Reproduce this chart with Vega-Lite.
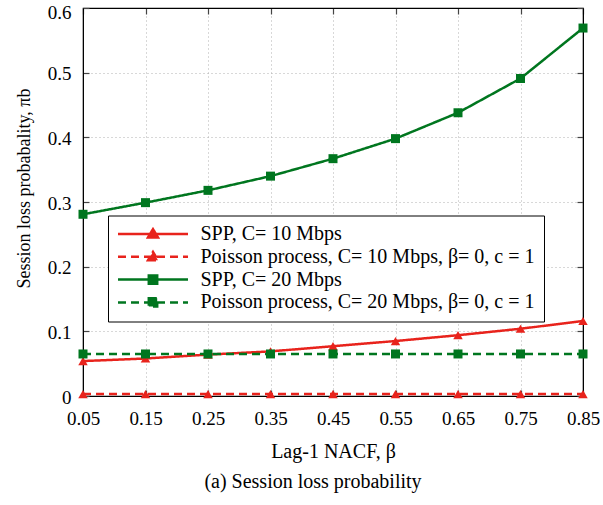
{
  "$schema": "https://vega.github.io/schema/vega-lite/v6.json",
  "autosize": {"type": "none"},
  "width": 500,
  "height": 388,
  "padding": {"left": 83, "top": 8, "right": 20, "bottom": 109},
  "background": "white",
  "config": {
    "font": "Liberation Serif",
    "view": {"stroke": "black", "strokeWidth": 1.2},
    "axis": {
      "labelFont": "Liberation Serif",
      "titleFont": "Liberation Serif",
      "labelFontSize": 19,
      "titleFontSize": 20,
      "titleFontWeight": "normal",
      "labelColor": "black",
      "titleColor": "black",
      "domainColor": "black",
      "tickColor": "#444",
      "tickSize": -6,
      "tickWidth": 1.2
    }
  },
  "title": {
    "text": "(a) Session loss probability",
    "orient": "bottom",
    "anchor": "middle",
    "dx": -20,
    "offset": 11,
    "fontSize": 20,
    "font": "Liberation Serif",
    "fontWeight": "normal",
    "color": "black"
  },
  "data": {
    "values": [
      {"series": "SPP, C= 10 Mbps", "beta": 0.05, "p": 0.054},
      {"series": "SPP, C= 10 Mbps", "beta": 0.15, "p": 0.058},
      {"series": "SPP, C= 10 Mbps", "beta": 0.25, "p": 0.064},
      {"series": "SPP, C= 10 Mbps", "beta": 0.35, "p": 0.069},
      {"series": "SPP, C= 10 Mbps", "beta": 0.45, "p": 0.077},
      {"series": "SPP, C= 10 Mbps", "beta": 0.55, "p": 0.085},
      {"series": "SPP, C= 10 Mbps", "beta": 0.65, "p": 0.094},
      {"series": "SPP, C= 10 Mbps", "beta": 0.75, "p": 0.104},
      {"series": "SPP, C= 10 Mbps", "beta": 0.85, "p": 0.116},
      {"series": "Poisson process, C= 10 Mbps, β= 0, c = 1", "beta": 0.05, "p": 0.003},
      {"series": "Poisson process, C= 10 Mbps, β= 0, c = 1", "beta": 0.15, "p": 0.003},
      {"series": "Poisson process, C= 10 Mbps, β= 0, c = 1", "beta": 0.25, "p": 0.003},
      {"series": "Poisson process, C= 10 Mbps, β= 0, c = 1", "beta": 0.35, "p": 0.003},
      {"series": "Poisson process, C= 10 Mbps, β= 0, c = 1", "beta": 0.45, "p": 0.003},
      {"series": "Poisson process, C= 10 Mbps, β= 0, c = 1", "beta": 0.55, "p": 0.003},
      {"series": "Poisson process, C= 10 Mbps, β= 0, c = 1", "beta": 0.65, "p": 0.003},
      {"series": "Poisson process, C= 10 Mbps, β= 0, c = 1", "beta": 0.75, "p": 0.003},
      {"series": "Poisson process, C= 10 Mbps, β= 0, c = 1", "beta": 0.85, "p": 0.003},
      {"series": "SPP, C= 20 Mbps", "beta": 0.05, "p": 0.281},
      {"series": "SPP, C= 20 Mbps", "beta": 0.15, "p": 0.299},
      {"series": "SPP, C= 20 Mbps", "beta": 0.25, "p": 0.318},
      {"series": "SPP, C= 20 Mbps", "beta": 0.35, "p": 0.340},
      {"series": "SPP, C= 20 Mbps", "beta": 0.45, "p": 0.367},
      {"series": "SPP, C= 20 Mbps", "beta": 0.55, "p": 0.398},
      {"series": "SPP, C= 20 Mbps", "beta": 0.65, "p": 0.438},
      {"series": "SPP, C= 20 Mbps", "beta": 0.75, "p": 0.491},
      {"series": "SPP, C= 20 Mbps", "beta": 0.85, "p": 0.569},
      {"series": "Poisson process, C= 20 Mbps, β= 0, c = 1", "beta": 0.05, "p": 0.065},
      {"series": "Poisson process, C= 20 Mbps, β= 0, c = 1", "beta": 0.15, "p": 0.065},
      {"series": "Poisson process, C= 20 Mbps, β= 0, c = 1", "beta": 0.25, "p": 0.065},
      {"series": "Poisson process, C= 20 Mbps, β= 0, c = 1", "beta": 0.35, "p": 0.065},
      {"series": "Poisson process, C= 20 Mbps, β= 0, c = 1", "beta": 0.45, "p": 0.065},
      {"series": "Poisson process, C= 20 Mbps, β= 0, c = 1", "beta": 0.55, "p": 0.065},
      {"series": "Poisson process, C= 20 Mbps, β= 0, c = 1", "beta": 0.65, "p": 0.065},
      {"series": "Poisson process, C= 20 Mbps, β= 0, c = 1", "beta": 0.75, "p": 0.065},
      {"series": "Poisson process, C= 20 Mbps, β= 0, c = 1", "beta": 0.85, "p": 0.065}
    ]
  },
  "layer": [
    {
      "mark": {"type": "line", "strokeWidth": 2.5},
      "encoding": {
        "x": {
          "field": "beta", "type": "quantitative",
          "scale": {"domain": [0.05, 0.85], "nice": false, "zero": false},
          "axis": {
            "orient": "bottom",
            "title": "Lag-1 NACF, β",
            "values": [0.05, 0.15, 0.25, 0.35, 0.45, 0.55, 0.65, 0.75, 0.85],
            "format": ".2f",
            "labelPadding": 19,
            "titlePadding": 13,
            "grid": true,
            "gridColor": "#b0b0b0",
            "gridDash": [1, 3],
            "gridWidth": 1,
            "labelFlush": false
          }
        },
        "y": {
          "field": "p", "type": "quantitative",
          "scale": {"domain": [0, 0.6], "nice": false},
          "axis": {
            "orient": "left",
            "title": "Session loss probabality, πb",
            "titleFontSize": 18,
            "titleY": 180,
            "values": [0, 0.1, 0.2, 0.3, 0.4, 0.5, 0.6],
            "labelExpr": "datum.value == 0 ? '0' : format(datum.value, '.1f')",
            "labelPadding": 18,
            "titlePadding": 14,
            "grid": true,
            "gridColor": "#b0b0b0",
            "gridDash": [1, 3],
            "gridWidth": 1,
            "labelFlush": false,
            "labelOffset": {"condition": {"test": "datum.value > 0.55", "value": 4}, "value": 1}
          }
        },
        "color": {
          "field": "series", "type": "nominal",
          "scale": {
            "domain": ["SPP, C= 10 Mbps", "Poisson process, C= 10 Mbps, β= 0, c = 1", "SPP, C= 20 Mbps", "Poisson process, C= 20 Mbps, β= 0, c = 1"],
            "range": ["#e8231c", "#e8231c", "#00761f", "#00761f"]
          },
          "legend": {
            "title": null,
            "orient": "none",
            "legendX": 25,
            "legendY": 207.5,
            "direction": "vertical",
            "padding": 8.5,
            "strokeColor": "black",
            "fillColor": "white",
            "cornerRadius": 0,
            "labelFont": "Liberation Serif",
            "labelFontSize": 20,
            "labelColor": "black",
            "labelLimit": 500,
            "labelOffset": 11,
            "clipHeight": 20,
            "rowPadding": 2.8,
            "symbolSize": 4900,
            "symbolStrokeWidth": 2.5,
            "encode": {
              "symbols": {
                "update": {
                  "shape": {"signal": "test(/10 Mbps/, datum.value) ? 'M-1,0H1M-0.143,0.1L0.143,0.1L0,-0.14Z' : 'M-1,0H1M-0.12,-0.12H0.12V0.12H-0.12Z'"},
                  "size": {"value": 4900},
                  "strokeDash": {"signal": "test(/Poisson/, datum.value) ? [8, 5] : [1, 0]"},
                  "fill": {"signal": "test(/10 Mbps/, datum.value) ? '#e8231c' : '#00761f'"},
                  "stroke": {"signal": "test(/10 Mbps/, datum.value) ? '#e8231c' : '#00761f'"},
                  "strokeWidth": {"value": 2.5},
                  "opacity": {"value": 1}
                }
              }
            }
          }
        },
        "strokeDash": {
          "field": "series", "type": "nominal",
          "scale": {
            "domain": ["SPP, C= 10 Mbps", "Poisson process, C= 10 Mbps, β= 0, c = 1", "SPP, C= 20 Mbps", "Poisson process, C= 20 Mbps, β= 0, c = 1"],
            "range": [[1, 0], [8, 5], [1, 0], [8, 5]]
          },
          "legend": null
        }
      }
    },
    {
      "transform": [{"filter": "test(/10 Mbps/, datum.series)"}],
      "mark": {"type": "point", "shape": "triangle-up", "size": 90, "filled": true, "opacity": 1, "clip": false},
      "encoding": {
        "x": {"field": "beta", "type": "quantitative", "axis": null},
        "y": {"field": "p", "type": "quantitative", "axis": null},
        "color": {"field": "series", "type": "nominal"}
      }
    },
    {
      "transform": [{"filter": "test(/20 Mbps/, datum.series)"}],
      "mark": {"type": "point", "shape": "square", "size": 81, "filled": true, "opacity": 1, "clip": false},
      "encoding": {
        "x": {
          "field": "beta", "type": "quantitative",
          "axis": {
            "orient": "top",
            "labels": false,
            "title": null,
            "grid": false,
            "values": [0.05, 0.15, 0.25, 0.35, 0.45, 0.55, 0.65, 0.75, 0.85]
          }
        },
        "y": {
          "field": "p", "type": "quantitative",
          "axis": {
            "orient": "right",
            "labels": false,
            "title": null,
            "grid": false,
            "values": [0, 0.1, 0.2, 0.3, 0.4, 0.5, 0.6]
          }
        },
        "color": {"field": "series", "type": "nominal"}
      }
    }
  ],
  "resolve": {"axis": {"x": "independent", "y": "independent"}}
}
